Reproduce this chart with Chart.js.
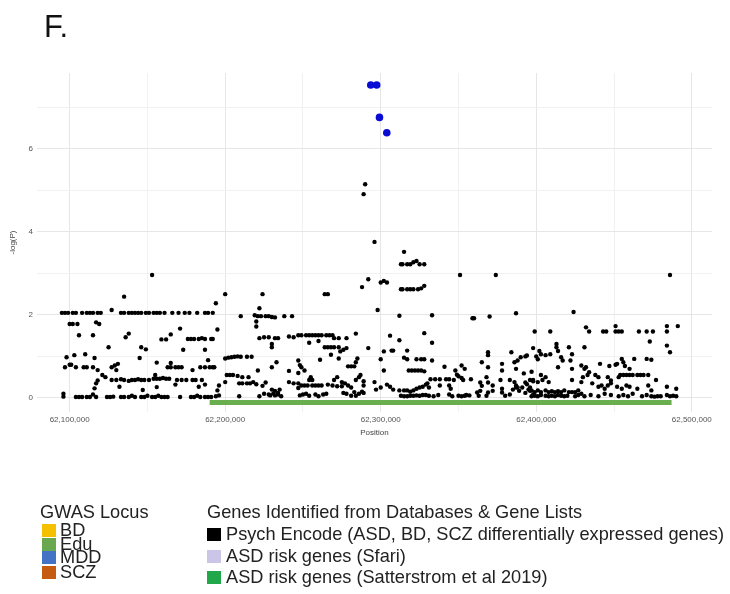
<!DOCTYPE html>
<html>
<head>
<meta charset="utf-8">
<script src="https://cdn.jsdelivr.net/npm/chart.js@4.4.1/dist/chart.umd.min.js"></script>
<style>
  body { margin: 0; background: #fff; }
  #fig { position: relative; width: 730px; height: 594px; overflow: hidden; font-family: "Liberation Sans", Arial, sans-serif; }
  #chart { position: absolute; left: 0; top: 0; }
  .panel-label { position: absolute; left: 44px; top: 9px; font-size: 31px; color: #111; }
  .lg { position: absolute; color: #222; font-size: 18.2px; white-space: nowrap; line-height: 20px; }
  .sw { position: absolute; width: 14px; height: 13px; }
</style>
</head>
<body>
<div id="fig">
  <canvas id="chart" width="730" height="594"></canvas>
  <div class="panel-label">F.</div>
  <div id="legend"></div>
</div>
<script>
// positions in kb on chr, value = -log10(P)
var psychSnps = [
  // 62.09 - 62.19 Mb
  [62095,2.05],[62097,2.05],[62099,2.05],[62102,2.05],[62104,2.05],[62108,2.05],[62111,2.05],[62113,2.05],[62115,2.05],[62118,2.05],[62120,2.05],[62127,2.12],
  [62133,2.05],[62135,2.05],[62138,2.05],[62140,2.05],[62142,2.05],[62144,2.05],[62146,2.05],[62149,2.05],[62151,2.05],[62154,2.05],[62156,2.05],[62158,2.05],
  [62161,2.05],[62166,2.05],[62170,2.05],[62174,2.05],[62177,2.05],[62182,2.05],[62187,2.05],[62189,2.05],[62192,2.05],
  [62153,2.96],[62135,2.44],
  [62100,1.78],[62102,1.78],[62105,1.78],[62117,1.82],[62119,1.78],
  [62106,1.51],[62115,1.51],[62138,1.55],[62136,1.46],[62159,1.41],[62162,1.41],[62165,1.53],[62171,1.67],
  [62176,1.42],[62178,1.42],[62180,1.42],[62183,1.42],[62185,1.44],[62187,1.42],[62191,1.42],
  [62125,1.22],[62146,1.22],[62149,1.17],[62173,1.16],[62187,1.16],
  [62098,0.98],[62103,1.03],[62110,1.05],[62116,0.96],[62145,0.96],[62189,0.91],[62156,0.85],
  [62097,0.74],[62100,0.8],[62101,0.8],[62104,0.74],[62109,0.74],[62111,0.74],[62115,0.74],
  [62118,0.67],[62127,0.74],[62129,0.78],[62131,0.82],[62130,0.67],
  [62163,0.74],[62165,0.74],[62168,0.74],[62170,0.74],[62172,0.74],[62165,0.84],
  [62179,0.67],[62184,0.74],[62187,0.74],[62190,0.74],[62193,0.74],
  [62121,0.55],[62123,0.5],
  [62127,0.43],[62130,0.43],[62133,0.45],[62135,0.43],[62138,0.41],[62140,0.43],[62142,0.43],[62144,0.45],[62146,0.43],[62148,0.43],[62151,0.43],
  [62154,0.46],[62155,0.55],[62156,0.46],[62158,0.46],[62160,0.48],[62162,0.46],[62164,0.46],
  [62169,0.43],[62172,0.43],[62175,0.43],[62179,0.43],[62181,0.43],[62185,0.43],
  [62118,0.42],[62117,0.35],[62116,0.23],
  [62132,0.27],[62147,0.19],[62156,0.26],[62168,0.32],[62183,0.27],[62187,0.32],
  [62096,0.03],[62096,0.1],[62104,0.02],[62106,0.02],[62108,0.02],[62111,0.02],[62113,0.02],[62115,0.08],[62117,0.02],[62124,0.02],[62126,0.02],[62128,0.03],
  [62133,0.02],[62135,0.02],[62138,0.02],[62140,0.05],[62142,0.02],[62146,0.02],[62148,0.02],[62150,0.05],[62153,0.02],[62155,0.02],[62157,0.05],[62159,0.02],
  [62161,0.02],[62163,0.02],[62171,0.02],[62178,0.02],[62180,0.02],[62182,0.05],[62184,0.02],[62187,0.02],[62189,0.02],[62191,0.02],
  // 62.19 - 62.29 Mb
  [62292,2.86],[62288,2.67],[62200,2.5],[62224,2.5],[62264,2.5],[62266,2.5],[62194,2.28],[62222,2.16],
  [62210,1.97],[62219,1.99],[62221,1.97],[62223,1.97],[62226,1.97],[62228,1.97],[62230,1.95],[62232,1.94],[62238,1.97],[62243,1.97],
  [62220,1.84],[62220,1.72],[62195,1.65],[62192,1.42],
  [62222,1.44],[62225,1.46],[62228,1.46],[62232,1.44],[62234,1.44],[62241,1.48],[62244,1.46],
  [62247,1.51],[62249,1.51],[62252,1.51],[62254,1.51],[62256,1.51],[62258,1.51],[62260,1.51],[62262,1.51],[62265,1.51],[62267,1.51],[62269,1.51],
  [62270,1.44],[62273,1.44],[62278,1.44],[62284,1.55],
  [62230,1.3],[62230,1.22],[62254,1.33],[62260,1.37],
  [62264,1.22],[62266,1.22],[62268,1.22],[62270,1.22],[62273,1.22],
  [62274,1.12],[62276,1.16],[62278,1.2],[62268,1.04],[62273,0.95],[62292,1.2],
  [62200,0.95],[62202,0.97],[62204,0.98],[62206,0.99],[62208,1.0],[62210,0.99],[62214,0.99],[62217,0.99],
  [62192,0.74],[62221,0.66],[62230,0.74],[62233,0.86],
  [62247,0.9],[62248,0.79],[62249,0.74],[62251,0.66],[62261,0.92],
  [62279,0.76],[62281,0.76],[62283,0.76],[62285,0.95],[62284,0.86],[62247,0.6],
  [62201,0.55],[62203,0.55],[62205,0.55],[62208,0.53],[62211,0.5],[62215,0.5],
  [62196,0.3],[62195,0.18],[62200,0.38],
  [62209,0.35],[62211,0.35],[62214,0.35],[62216,0.35],[62218,0.38],[62220,0.33],[62224,0.29],[62226,0.37],
  [62230,0.2],[62232,0.17],[62234,0.12],[62235,0.2],[62241,0.65],[62241,0.38],[62244,0.35],[62247,0.35],[62247,0.24],
  [62249,0.3],[62251,0.3],[62253,0.3],[62256,0.3],[62258,0.3],[62260,0.3],[62262,0.3],[62266,0.32],[62269,0.3],[62272,0.28],[62275,0.28],
  [62254,0.43],[62255,0.5],[62256,0.43],[62270,0.43],[62272,0.5],[62275,0.38],
  [62277,0.35],[62279,0.3],[62281,0.25],
  [62284,0.43],[62286,0.5],[62287,0.55],[62289,0.4],[62289,0.3],[62288,0.15],
  [62276,0.12],[62278,0.1],[62281,0.05],[62283,0.14],[62284,0.05],[62286,0.1],[62289,0.12],
  [62194,0.04],[62196,0.06],[62209,0.04],[62222,0.04],[62229,0.06],[62236,0.04],
  [62225,0.1],[62228,0.08],[62231,0.11],[62232,0.06],[62234,0.08],
  [62248,0.06],[62250,0.08],[62252,0.1],[62254,0.05],[62258,0.08],[62260,0.04],[62263,0.08],[62265,0.1],
  // peak
  [62290,5.15],[62289,4.91],[62296,3.76],[62315,3.52],
  // 62.29 - 62.40 Mb
  [62313,3.22],[62314,3.22],[62317,3.22],[62319,3.22],[62321,3.27],[62323,3.3],[62325,3.22],[62328,3.22],
  [62351,2.96],[62374,2.96],
  [62300,2.78],[62302,2.82],[62304,2.78],
  [62313,2.62],[62314,2.62],[62317,2.62],[62319,2.62],[62321,2.62],[62324,2.62],[62326,2.64],[62328,2.7],
  [62298,2.12],
  [62312,1.98],[62333,1.99],[62359,1.92],[62360,1.92],[62370,1.96],[62387,2.04],
  [62328,1.56],[62306,1.5],[62312,1.39],[62333,1.33],
  [62302,1.12],[62307,1.14],[62308,1.14],[62317,1.14],[62369,1.1],[62369,1.03],[62384,1.1],
  [62300,0.93],[62315,0.97],[62317,0.93],[62323,0.93],[62326,0.93],[62328,0.93],[62333,0.9],[62365,0.86],[62369,0.74],[62378,0.82],
  [62386,0.86],[62388,0.9],[62390,0.98],[62393,1.0],[62394,1.02],
  [62302,0.66],[62318,0.66],[62320,0.66],[62322,0.66],[62324,0.66],[62326,0.66],[62328,0.64],
  [62341,0.75],[62348,0.66],[62352,0.78],[62354,0.7],[62378,0.66],
  [62387,0.7],[62392,0.59],[62397,0.63],[62396,0.43],
  [62296,0.38],
  [62332,0.45],[62335,0.45],[62338,0.45],[62342,0.45],[62344,0.45],[62347,0.43],
  [62330,0.35],[62331,0.25],[62338,0.3],[62344,0.3],[62345,0.22],
  [62349,0.56],[62350,0.52],[62352,0.48],[62353,0.43],[62358,0.45],
  [62364,0.37],[62365,0.29],[62368,0.5],[62369,0.37],[62372,0.3],
  [62377,0.43],[62378,0.22],[62383,0.43],[62386,0.38],[62387,0.3],[62388,0.25],
  [62393,0.37],[62394,0.33],[62396,0.25],[62398,0.4],
  [62297,0.2],[62300,0.25],[62304,0.32],[62306,0.27],[62308,0.2],
  [62312,0.18],[62315,0.18],[62317,0.18],[62319,0.15],[62321,0.18],[62323,0.22],[62325,0.25],[62327,0.27],[62329,0.32],
  [62313,0.05],[62315,0.04],[62317,0.04],[62319,0.05],[62321,0.05],[62323,0.06],[62325,0.05],[62327,0.07],[62329,0.07],[62331,0.05],[62334,0.04],[62337,0.07],
  [62344,0.08],[62346,0.04],[62350,0.05],[62352,0.04],[62354,0.05],[62355,0.07],[62357,0.06],
  [62362,0.13],[62363,0.05],[62364,0.17],[62368,0.05],[62369,0.13],[62372,0.17],
  [62378,0.13],[62380,0.05],[62383,0.08],
  [62385,0.2],[62387,0.25],[62389,0.17],[62391,0.25],[62393,0.12],[62395,0.2],[62396,0.17],[62398,0.08],
  // 62.40 - 62.49 Mb
  [62486,2.96],[62424,2.07],[62399,1.6],[62409,1.6],[62432,1.7],[62434,1.6],
  [62443,1.6],[62445,1.6],[62451,1.6],[62453,1.6],[62455,1.6],[62451,1.73],
  [62466,1.6],[62471,1.6],[62475,1.6],[62484,1.6],[62484,1.73],[62491,1.73],
  [62473,1.36],[62484,1.26],[62486,1.1],
  [62398,1.2],[62402,1.13],[62403,1.05],[62406,1.03],[62409,1.05],[62400,1.0],[62401,0.93],
  [62413,1.3],[62413,1.22],[62414,1.13],[62416,0.98],[62417,0.9],
  [62421,1.22],[62423,1.05],[62422,0.9],[62431,1.22],
  [62414,0.74],[62423,0.7],[62429,0.78],[62431,0.7],[62432,0.74],[62434,0.62],[62441,0.82],
  [62447,0.77],[62451,0.8],[62452,0.82],[62455,0.94],[62456,0.86],[62457,0.77],[62460,0.7],[62463,0.94],[62471,0.94],[62474,0.92],
  [62454,0.55],[62456,0.55],[62458,0.55],[62460,0.55],[62462,0.55],[62465,0.55],[62467,0.55],[62469,0.55],[62472,0.55],
  [62453,0.5],[62477,0.43],
  [62403,0.55],[62406,0.5],[62430,0.5],[62433,0.55],[62438,0.55],[62440,0.5],[62446,0.5],[62448,0.42],
  [62423,0.43],[62429,0.38],[62398,0.43],[62401,0.38],[62404,0.43],[62408,0.38],
  [62436,0.35],[62440,0.27],[62442,0.3],[62444,0.22],[62446,0.3],[62448,0.35],[62452,0.27],[62455,0.22],
  [62458,0.3],[62460,0.27],[62465,0.22],[62472,0.3],[62474,0.18],[62484,0.27],[62490,0.22],
  [62397,0.18],[62399,0.14],[62401,0.18],[62403,0.14],[62406,0.18],[62408,0.14],[62410,0.16],[62412,0.14],[62414,0.16],[62416,0.14],[62418,0.18],[62421,0.14],
  [62423,0.14],[62425,0.14],[62427,0.18],[62429,0.1],
  [62397,0.04],[62399,0.05],[62401,0.04],[62403,0.07],[62406,0.05],[62408,0.04],[62410,0.05],[62412,0.04],[62414,0.07],[62416,0.05],[62418,0.04],[62420,0.05],
  [62425,0.04],[62427,0.07],[62431,0.04],
  [62435,0.07],[62440,0.04],[62444,0.1],[62448,0.07],[62453,0.04],[62456,0.07],[62459,0.04],[62462,0.1],[62468,0.04],[62471,0.07],[62474,0.04],[62476,0.03],
  [62478,0.04],[62480,0.04],[62484,0.07],[62486,0.04],[62488,0.05],[62490,0.04]
];

// MDD GWAS locus hits (blue)
var mddSnps = [[62293.6,7.54],[62297.4,7.54],[62299.2,6.76],[62303.9,6.39]];

// Satterstrom ASD gene span (green bar under the points)
var satterstromGene = [[62190,-0.11],[62487,-0.11]];

var xTickValues = [62100000,62150000,62200000,62250000,62300000,62350000,62400000,62450000,62500000];
var yTickValues = [0,1,2,3,4,5,6,7];

var gwasLoci = ['BD','Edu','MDD','SCZ'];
var gwasColors = ['#f5c000','#6aa84f','#4472c4','#c55a11'];
var geneLists = ['Psych Encode (ASD, BD, SCZ differentially expressed genes)','ASD risk genes (Sfari)','ASD risk genes (Satterstrom et al 2019)'];
var geneColors = ['#000000','#cbc5e8','#22a84a'];

function toXY(list) {
  return list.map(function(p) { return {x: p[0] * 1000, y: p[1]}; });
}

new Chart("chart", {
  type: "scatter",
  data: {
    datasets: [{
      data: toXY(mddSnps),
      backgroundColor: "#0b0bd6",
      pointRadius: 3.8,
      borderWidth: 0,
      order: 0
    }, {
      data: toXY(psychSnps),
      backgroundColor: "#000",
      pointRadius: 2.2,
      borderWidth: 0,
      order: 1
    }, {
      type: "line",
      data: toXY(satterstromGene),
      borderColor: "#6aae4f",
      borderWidth: 5,
      borderCapStyle: "butt",
      pointRadius: 0,
      order: 2
    }]
  },
  options: {
    responsive: false,
    animation: false,
    devicePixelRatio: 1,
    layout: { padding: { left: 0, top: 73, right: 18, bottom: 152 } },
    plugins: { legend: { display: false }, tooltip: { enabled: false } },
    scales: {
      x: {
        type: "linear",
        min: 62079000,
        max: 62513000,
        afterBuildTicks: function(scale) {
          scale.ticks = xTickValues.map(function(v) { return {value: v}; });
        },
        afterFit: function(scale) { scale.height = 30; },
        border: { display: false },
        grid: {
          drawTicks: false,
          color: function(ctx) { return ctx.tick && ctx.tick.value % 100000 === 0 ? "#e6e6e6" : "#f1f1f1"; }
        },
        ticks: {
          padding: 3,
          maxRotation: 0,
          autoSkip: false,
          color: "#555",
          font: { family: "Liberation Sans", size: 8 },
          callback: function(v) { return v % 100000 === 0 ? v.toLocaleString("en-US") : ""; }
        },
        title: {
          display: true,
          text: "Position",
          color: "#444",
          font: { family: "Liberation Sans", size: 8 },
          padding: { top: 0, bottom: 4 }
        }
      },
      y: {
        min: -0.34,
        max: 7.83,
        afterBuildTicks: function(scale) {
          scale.ticks = yTickValues.map(function(v) { return {value: v}; });
        },
        afterFit: function(scale) { scale.width = 37; },
        border: { display: false },
        grid: {
          drawTicks: false,
          color: function(ctx) { return ctx.tick && ctx.tick.value % 2 === 0 ? "#e6e6e6" : "#f1f1f1"; }
        },
        ticks: {
          padding: 4,
          color: "#555",
          font: { family: "Liberation Sans", size: 8 },
          callback: function(v) { return v % 2 === 0 ? v : ""; }
        },
        title: {
          display: true,
          text: "-log(P)",
          color: "#444",
          font: { family: "Liberation Sans", size: 8 },
          padding: { top: 8, bottom: 0 }
        }
      }
    }
  }
});

// custom legend below the plot
function addText(txt, left, centerY) {
  var d = document.createElement("div");
  d.className = "lg";
  d.textContent = txt;
  d.style.left = left + "px";
  d.style.top = (centerY - 10) + "px";
  document.getElementById("legend").appendChild(d);
}
function addSwatch(color, left, centerY) {
  var s = document.createElement("div");
  s.className = "sw";
  s.style.background = color;
  s.style.left = left + "px";
  s.style.top = (centerY - 6) + "px";
  document.getElementById("legend").appendChild(s);
}

addText("GWAS Locus", 40, 512);
var gwasY = [530, 543.5, 557, 572];
for (var i = 0; i < gwasLoci.length; i++) {
  addSwatch(gwasColors[i], 42, gwasY[i]);
  addText(gwasLoci[i], 60, gwasY[i]);
}

addText("Genes Identified from Databases & Gene Lists", 207, 512);
var geneY = [534, 556, 577];
for (var j = 0; j < geneLists.length; j++) {
  addSwatch(geneColors[j], 207, geneY[j]);
  addText(geneLists[j], 226, geneY[j]);
}
</script>
</body>
</html>
